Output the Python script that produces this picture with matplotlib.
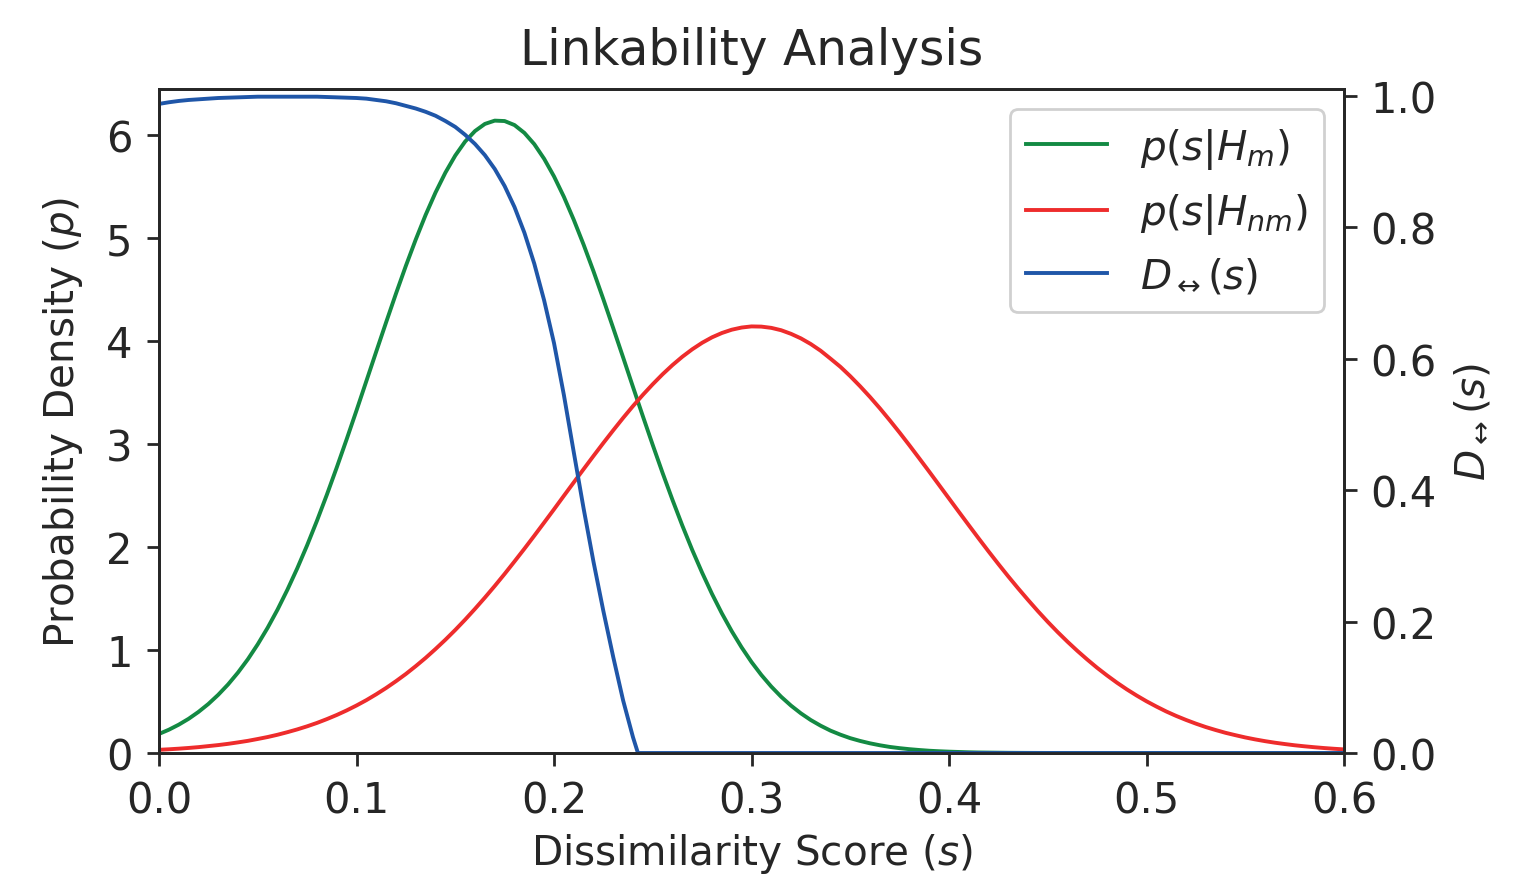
import numpy as np
import matplotlib
matplotlib.use("Agg")
import matplotlib.pyplot as plt

# Dissimilarity score grid (0 .. 0.6 in steps of 0.005)
scores = np.linspace(0.0, 0.6, 121)

# p(s|Hm) - mated density
p_mated = [
    0.185, 0.226, 0.275, 0.332, 0.399, 0.476, 0.565, 0.666, 0.781, 0.910,
    1.055, 1.215, 1.391, 1.584, 1.792, 2.016, 2.255, 2.507, 2.771, 3.044,
    3.324, 3.610, 3.896, 4.180, 4.459, 4.728, 4.983, 5.222, 5.439, 5.632,
    5.798, 5.934, 6.036, 6.105, 6.137, 6.133, 6.094, 6.018, 5.909, 5.767,
    5.596, 5.398, 5.175, 4.933, 4.675, 4.403, 4.123, 3.839, 3.552, 3.268,
    2.989, 2.717, 2.456, 2.206, 1.970, 1.750, 1.544, 1.355, 1.182, 1.025,
    0.883, 0.757, 0.645, 0.546, 0.460, 0.385, 0.320, 0.265, 0.217, 0.178,
    0.144, 0.117, 0.094, 0.075, 0.059, 0.047, 0.037, 0.029, 0.022, 0.017,
    0.013, 0.010, 0.007, 0.005, 0.004, 0.003, 0.002, 0.0015, 0.001, 0.0007,
    0.0005, 0.0003, 0.0002, 0.0001, 0.0, 0.0, 0.0, 0.0, 0.0, 0.0,
    0.0, 0.0, 0.0, 0.0, 0.0, 0.0, 0.0, 0.0, 0.0, 0.0,
    0.0, 0.0, 0.0, 0.0, 0.0, 0.0, 0.0, 0.0, 0.0, 0.0,
    0.0,
]

# p(s|Hnm) - non-mated density
p_nonmated = [
    0.031, 0.036, 0.042, 0.049, 0.057, 0.067, 0.077, 0.089, 0.103, 0.118,
    0.136, 0.155, 0.177, 0.202, 0.229, 0.259, 0.292, 0.329, 0.369, 0.413,
    0.461, 0.513, 0.570, 0.631, 0.697, 0.767, 0.843, 0.923, 1.009, 1.099,
    1.194, 1.294, 1.399, 1.508, 1.621, 1.738, 1.859, 1.982, 2.108, 2.236,
    2.365, 2.496, 2.626, 2.755, 2.883, 3.009, 3.132, 3.252, 3.367, 3.476,
    3.579, 3.676, 3.765, 3.846, 3.918, 3.981, 4.034, 4.076, 4.108, 4.129,
    4.140, 4.138, 4.126, 4.103, 4.068, 4.024, 3.969, 3.904, 3.827, 3.748,
    3.657, 3.559, 3.455, 3.345, 3.229, 3.109, 2.985, 2.858, 2.730, 2.600,
    2.470, 2.340, 2.211, 2.083, 1.957, 1.834, 1.714, 1.598, 1.486, 1.377,
    1.273, 1.174, 1.080, 0.991, 0.907, 0.827, 0.753, 0.683, 0.618, 0.558,
    0.502, 0.451, 0.403, 0.360, 0.321, 0.285, 0.252, 0.223, 0.196, 0.173,
    0.151, 0.132, 0.115, 0.100, 0.087, 0.075, 0.065, 0.056, 0.048, 0.041,
    0.035,
]

# D<->(s) local linkability (right axis)
d_scores = [
    0.000, 0.005, 0.010, 0.015, 0.020, 0.025, 0.030, 0.035, 0.040, 0.045,
    0.050, 0.055, 0.060, 0.065, 0.070, 0.075, 0.080, 0.085, 0.090, 0.095,
    0.100, 0.105, 0.110, 0.115, 0.120, 0.125, 0.130, 0.135, 0.140, 0.145,
    0.150, 0.155, 0.160, 0.165, 0.170, 0.175, 0.180, 0.185, 0.190, 0.195,
    0.200, 0.205, 0.210, 0.215, 0.220, 0.225, 0.230, 0.235, 0.240, 0.2425,
    0.600,
]
d_values = [
    0.988, 0.9905, 0.9925, 0.994, 0.995, 0.996, 0.997, 0.9975, 0.998, 0.9985,
    0.999, 0.999, 0.999, 0.999, 0.999, 0.999, 0.999, 0.9985, 0.998, 0.9975,
    0.997, 0.996, 0.994, 0.992, 0.989, 0.985, 0.981, 0.976, 0.970, 0.962,
    0.953, 0.941, 0.927, 0.910, 0.889, 0.863, 0.831, 0.792, 0.745, 0.689,
    0.624, 0.545, 0.458, 0.372, 0.291, 0.216, 0.146, 0.080, 0.024, 0.000,
    0.000,
]

x_ticks = [0.0, 0.1, 0.2, 0.3, 0.4, 0.5, 0.6]
left_ticks = [0, 1, 2, 3, 4, 5, 6]
right_ticks = [0.0, 0.2, 0.4, 0.6, 0.8, 1.0]

GREEN = "#138a43"
RED = "#ee2c2c"
BLUE = "#1f56a8"
DARK = "#262626"

plt.rcParams.update({
    "font.family": ["DejaVu Sans"],
    "text.color": DARK,
    "axes.labelcolor": DARK,
    "xtick.color": DARK,
    "ytick.color": DARK,
    "axes.edgecolor": DARK,
    "axes.linewidth": 1.0,
    "xtick.major.width": 1.0,
    "ytick.major.width": 1.0,
    "xtick.major.size": 4.5,
    "ytick.major.size": 4.5,
    "xtick.major.pad": 5,
    "ytick.major.pad": 5,
    "mathtext.fontset": "dejavusans",
})

fig = plt.figure(figsize=(7.64, 4.395), dpi=200)
ax = fig.add_axes([159 / 1528, 1 - 754 / 879, (1344 - 159) / 1528, (754 - 90) / 879])
ax2 = ax.twinx()

l1, = ax.plot(scores, p_mated, color=GREEN, lw=1.4, label=r"$p(s|H_m)$")
l2, = ax.plot(scores, p_nonmated, color=RED, lw=1.4, label=r"$p(s|H_{nm})$")
l3, = ax2.plot(d_scores, d_values, color=BLUE, lw=1.4, label=r"$D_{\leftrightarrow}(s)$")

ax.set_xlim(0.0, 0.6)
ax.set_ylim(0, 6.444)
ax2.set_ylim(0, 1.0107)
ax.set_xticks(x_ticks)
ax.set_xticklabels([f"{t:.1f}" for t in x_ticks])
ax.set_yticks(left_ticks)
ax2.set_yticks(right_ticks)
ax2.set_yticklabels([f"{t:.1f}" for t in right_ticks])

ax.tick_params(labelsize=15)
ax2.tick_params(labelsize=15)

ax.set_xlabel(r"Dissimilarity Score ($s$)", fontsize=14.6, labelpad=3.5)
ax.set_ylabel(r"Probability Density ($p$)", fontsize=14.6, labelpad=7.5)
ax2.set_ylabel(r"$D_{\leftrightarrow}(s)$", fontsize=14.6, labelpad=6)
ax.set_title("Linkability Analysis", fontsize=17.5, pad=9)

leg = ax2.legend(handles=[l1, l2, l3], loc="upper right", fontsize=14.6,
                 labelspacing=0.5, frameon=True, fancybox=True,
                 edgecolor="#d0d0d0", framealpha=1.0)
leg.get_frame().set_linewidth(1.0)

fig.savefig("out.png", dpi=200)
